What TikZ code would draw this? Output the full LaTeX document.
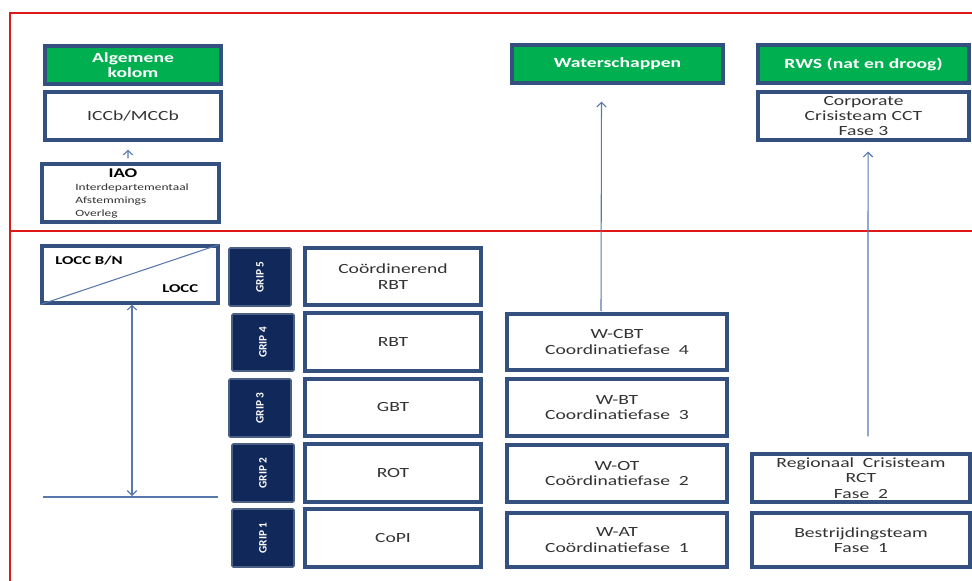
\documentclass[tikz,border=0pt]{standalone}
\usepackage{fontspec}
\setmainfont[FakeStretch=1.4]{Carlito}
\newfontfamily\gripfont{Carlito}
\usetikzlibrary{arrows.meta}
\definecolor{redline}{HTML}{E01818}
\definecolor{boxblue}{HTML}{34507F}
\definecolor{grn}{HTML}{00B050}
\definecolor{navy}{HTML}{10285A}
\definecolor{gripedge}{HTML}{4A5F82}
\definecolor{txt}{HTML}{333333}
\definecolor{arrc}{HTML}{5878AE}
\tikzset{
  frame/.style={draw=redline, line width=1.6pt},
  sz/.style 2 args={minimum width=#1*0.75pt, minimum height=#2*0.75pt},
  box/.style={draw=boxblue, line width=2.3pt, fill=white, inner sep=0pt, text=txt, align=center,
    font=\fontsize{10.5}{11.5}\selectfont},
  greenbox/.style={box, fill=grn, text=white, font=\fontsize{10.5}{11.5}\selectfont\bfseries},
  grip/.style={draw=gripedge, line width=1.2pt, fill=navy, inner sep=0pt, text=white,
    rounded corners=1pt, font=\gripfont\fontsize{8.5}{10}\selectfont\bfseries},
  conn/.style={draw=arrc, line width=0.8pt, -{Straight Barb[length=3.5pt,width=7pt]}},
  dconn/.style={draw=arrc, line width=0.8pt, {Straight Barb[length=3.5pt,width=7pt]}-{Straight Barb[length=3.5pt,width=7pt]}},
  thinline/.style={draw=arrc, line width=0.8pt},
  plain/.style={inner sep=0pt, text=txt},
}
\begin{document}
\begin{tikzpicture}[x=0.75pt,y=-0.75pt]
\useasboundingbox (0,0) rectangle (972,581);
% red frame lines
\coordinate (r1) at (10,13);
\coordinate (r2) at (972,13);
\coordinate (r3) at (10,581);
\coordinate (r4) at (10,231);
\coordinate (r5) at (972,231);
\draw[frame] (r2) -- (r1) -- (r3);
\draw[frame] (r4) -- (r5);

% top section
\node[greenbox, sz={176}{38}] (alg) at (133,65) {Algemene\\kolom};
\node[box, sz={176}{48}] (iccb) at (133,116) {ICCb/MCCb};
\node[box, sz={177}{58}] (iao) at (130.5,193) {};
\node[plain, anchor=base, font=\fontsize{10}{12}\selectfont\bfseries, text=black] (iaot) at (123,178) {IAO};
\node[plain, anchor=base west, font=\fontsize{7.2}{9}\selectfont] (iao1) at (75,191) {Interdepartementaal};
\node[plain, anchor=base west, font=\fontsize{7.2}{9}\selectfont] (iao2) at (75,204) {Afstemmings};
\node[plain, anchor=base west, font=\fontsize{7.2}{9}\selectfont] (iao3) at (75,217) {Overleg};
\draw[conn] ([xshift=-1.9pt,yshift=3pt]iao.north) -- ([xshift=-3.75pt,yshift=-6pt]iccb.south);

\node[greenbox, sz={211}{38}] (water) at (617.5,64) {Waterschappen};
\node[greenbox, sz={211}{38}] (rws) at (863.5,64) {RWS (nat en droog)};
\node[box, sz={211}{48}] (cct) at (863.5,116) {Corporate\\Crisisteam CCT\\Fase 3};

% lower section: LOCC
\node[box, sz={176}{57}] (locc) at (130,274.5) {};
\draw[thinline] (locc.south west) -- (locc.north east);
\node[plain, anchor=base west, font=\fontsize{9}{11}\selectfont\bfseries, text=black] (loccbn) at (55,265) {LOCC B/N};
\node[plain, anchor=base west, font=\fontsize{9}{11}\selectfont\bfseries, text=black] (loccr) at (162,293) {LOCC};
\coordinate (hl1) at (43,497);
\coordinate (hl2) at (218,497);
\coordinate (harr) at (132,496);
\draw[thinline] (hl1) -- (hl2);
\draw[dconn] (locc.south -| harr) -- (harr);

% GRIP boxes
\node[grip, sz={62}{58}] (g5) at (260,277) {\rotatebox{90}{GRIP 5}};
\node[grip, sz={62}{57}] (g4) at (263,342.5) {\rotatebox{90}{GRIP 4}};
\node[grip, sz={62}{58}] (g3) at (260,408) {\rotatebox{90}{GRIP 3}};
\node[grip, sz={62}{58}] (g2) at (263,473) {\rotatebox{90}{GRIP 2}};
\node[grip, sz={62}{58}] (g1) at (263,538) {\rotatebox{90}{GRIP 1}};

% centre column
\node[box, sz={176}{57}] (crbt) at (393,276.5) {Coördinerend\\RBT};
\node[box, sz={176}{58}] (rbt) at (393,342) {RBT};
\node[box, sz={176}{57}] (gbt) at (393,407.5) {GBT};
\node[box, sz={176}{58}] (rot) at (393,473) {ROT};
\node[box, sz={176}{58}] (copi) at (393,538) {CoPI};

% water column
\node[box, sz={220}{56}] (wcbt) at (617,342) {W-CBT\\Coordinatiefase~~4};
\node[box, sz={220}{57}] (wbt) at (617,407.5) {W-BT\\Coordinatiefase~~3};
\node[box, sz={220}{57}] (wot) at (617,473.5) {W-OT\\Coördinatiefase~~2};
\node[box, sz={220}{54}] (wat) at (617,540) {W-AT\\Coördinatiefase~~1};

% RWS column
\node[box, sz={218}{48}] (rct) at (861,478) {Regionaal~~Crisisteam\\RCT\\Fase~~2};
\node[box, sz={218}{54}] (bst) at (861,540) {Bestrijdingsteam\\Fase~~1};

% connectors
\draw[conn] ([xshift=-12pt,yshift=1pt]wcbt.north) -- ([xshift=-12pt,yshift=-12.75pt]water.south);
\draw[conn] ([xshift=5.25pt,yshift=12pt]rct.north) -- ([xshift=3.4pt,yshift=-7.5pt]cct.south);
\end{tikzpicture}
\end{document}
